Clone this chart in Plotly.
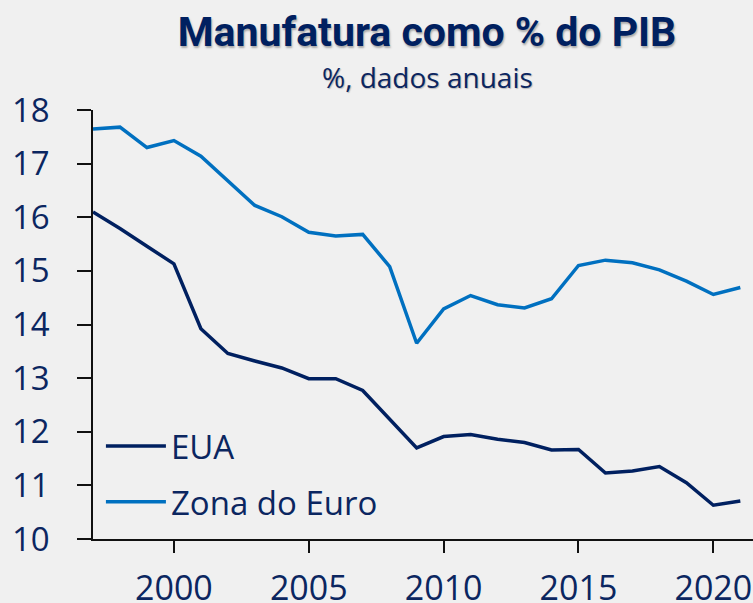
import plotly.graph_objects as go

years = list(range(1997, 2022))
eua = [16.10, 15.79, 15.46, 15.13, 13.92, 13.46, 13.32, 13.19, 12.99, 12.99,
       12.77, 12.23, 11.70, 11.91, 11.95, 11.86, 11.80, 11.66, 11.67, 11.23,
       11.27, 11.35, 11.05, 10.63, 10.71]
zona_euro = [17.645, 17.68, 17.30, 17.43, 17.14, 16.68, 16.22, 16.01, 15.72, 15.65,
             15.68, 15.08, 13.65, 14.29, 14.54, 14.37, 14.31, 14.48, 15.10, 15.20,
             15.15, 15.02, 14.81, 14.56, 14.69]
x_ticks = [2000, 2005, 2010, 2015, 2020]
y_ticks = [10, 11, 12, 13, 14, 15, 16, 17, 18]

navy = "#002060"
blue = "#0070c0"
txt = "#0b2660"
font_family = "Open Sans"

fig = go.Figure()
fig.add_trace(go.Scatter(x=years, y=eua, mode="lines", name="EUA",
                         legendgroup="a",
                         line=dict(color=navy, width=3.5)))
fig.add_trace(go.Scatter(x=years, y=zona_euro, mode="lines", name="Zona do Euro",
                         legendgroup="b",
                         line=dict(color=blue, width=3.5)))

fig.update_layout(
    width=753, height=603,
    paper_bgcolor="#f0f0f0", plot_bgcolor="#f0f0f0",
    margin=dict(l=93, r=0, t=110, b=64, autoexpand=False),
    font=dict(family=font_family, color=txt),
    title=dict(text="<b>Manufatura como % do PIB</b>", x=427 / 753, xanchor="center",
               y=1 - 32 / 603, yanchor="middle",
               font=dict(family="Roboto", size=41, color=navy,
                         shadow="1px 2px 2px #aaa")),
    annotations=[dict(text="%, dados anuais", xref="paper", yref="paper",
                      x=(427 - 93) / 660, y=1.0, yshift=110 - 77, xanchor="center",
                      yanchor="middle",
                      showarrow=False, font=dict(size=28, color=txt,
                                                 shadow="1px 1px 1px #bbb"))],
    showlegend=True,
    legend=dict(x=0.012, y=0.282, xanchor="left", yanchor="top",
                bgcolor="rgba(0,0,0,0)", font=dict(size=33, color=txt),
                tracegroupgap=10, itemwidth=60),
    xaxis=dict(range=[1997, 2021.47], tickmode="array", tickvals=x_ticks,
               automargin=False,
               showgrid=False, zeroline=False, showline=True, linecolor="#111",
               linewidth=1.5, ticks="outside", ticklen=12, tickwidth=1.5,
               tickcolor="#111", ticklabelstandoff=6,
               tickfont=dict(size=34, color=txt)),
    yaxis=dict(range=[10, 18], tickmode="array", tickvals=y_ticks,
               automargin=False,
               showgrid=False, zeroline=False, showline=True, linecolor="#111",
               linewidth=1.5, ticks="outside", ticklen=14, tickwidth=1.5,
               tickcolor="#111", ticklabelstandoff=21,
               tickfont=dict(size=33, color=txt)),
)

fig.write_html("out.html", config={"displayModeBar": False},
               post_script="document.body.style.margin='0';document.body.style.overflow='hidden';")
